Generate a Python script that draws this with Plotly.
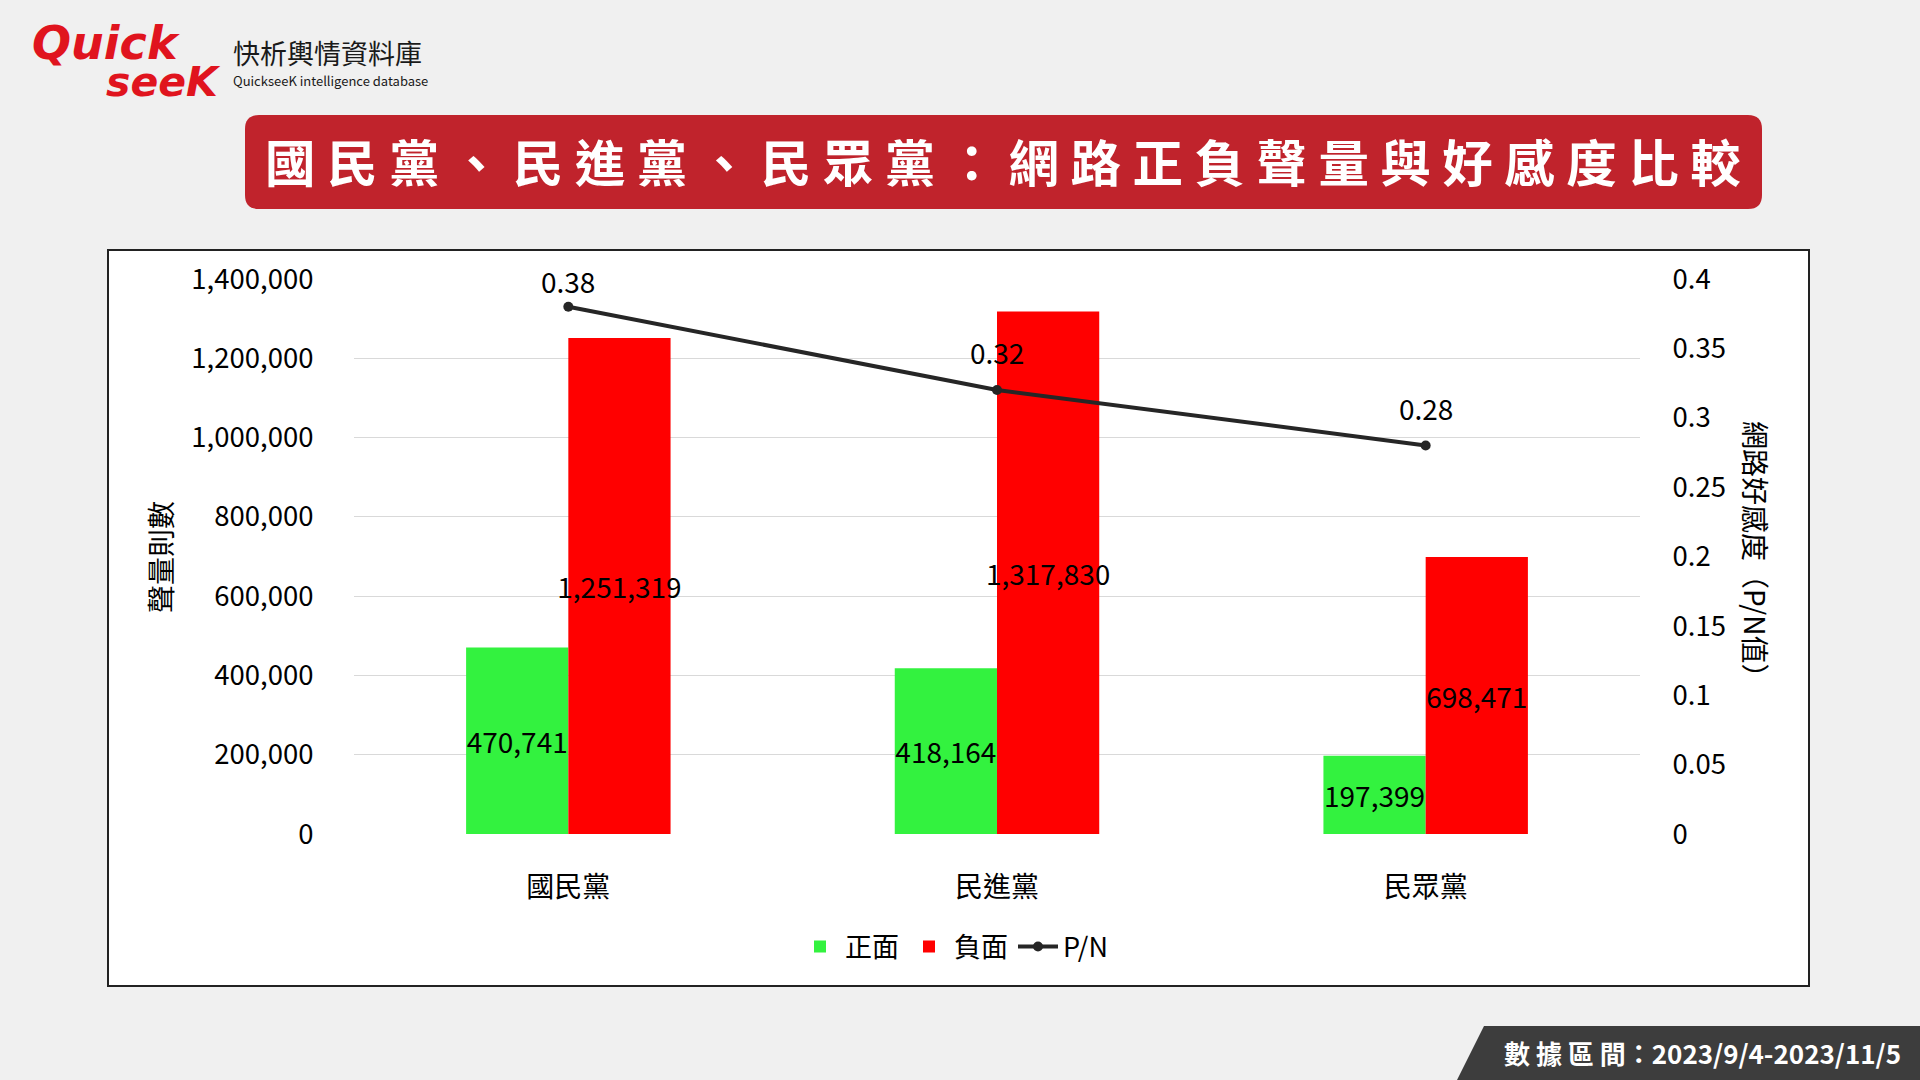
import plotly.graph_objects as go

categories = ["國民黨", "民進黨", "民眾黨"]
positive = [470741, 418164, 197399]
negative = [1251319, 1317830, 698471]
pn_ratio = [0.38, 0.32, 0.28]
pn_labels = ["0.38", "0.32", "0.28"]
pn_label_shift = [26, 38, 37]  # pixel lift of each P/N label above its point (style)

FONT = "Noto Sans CJK TC"
W, H = 1920, 1080
FS = 28

def px(x):
    return x / W

def py(y):
    return 1 - y / H

fig = go.Figure()
fig.add_trace(go.Bar(
    x=categories, y=positive, name="正面", marker_color="#33F23F",
    text=[f"{v:,}" for v in positive], textposition="inside", textangle=0,
    insidetextanchor="middle", constraintext="none",
    insidetextfont=dict(color="black", size=FS, family=FONT),
))
fig.add_trace(go.Bar(
    x=categories, y=negative, name="負面", marker_color="#FF0000",
    text=[f"{v:,}" for v in negative], textposition="inside", textangle=0,
    insidetextanchor="middle", constraintext="none",
    insidetextfont=dict(color="black", size=FS, family=FONT),
))
fig.add_trace(go.Scatter(
    x=categories, y=pn_ratio, name="P/N", yaxis="y2",
    mode="lines+markers",
    line=dict(color="#262626", width=4), marker=dict(color="#262626", size=10),
    cliponaxis=False,
))

shapes = []
# chart frame
shapes.append(dict(type="rect", xref="paper", yref="paper",
                   x0=px(108), x1=px(1809), y0=py(986), y1=py(250),
                   line=dict(color="#222222", width=2), fillcolor="white", layer="below"))
# title rounded rect
x0, x1, y0, y1, r = 245, 1762, 115, 209, 14
path = (f"M {px(x0+r)},{py(y0)} L {px(x1-r)},{py(y0)} Q {px(x1)},{py(y0)} {px(x1)},{py(y0+r)} "
        f"L {px(x1)},{py(y1-r)} Q {px(x1)},{py(y1)} {px(x1-r)},{py(y1)} "
        f"L {px(x0+r)},{py(y1)} Q {px(x0)},{py(y1)} {px(x0)},{py(y1-r)} "
        f"L {px(x0)},{py(y0+r)} Q {px(x0)},{py(y0)} {px(x0+r)},{py(y0)} Z")
shapes.append(dict(type="path", xref="paper", yref="paper", path=path,
                   fillcolor="#C0232C", line=dict(width=0)))
# bottom-right badge
bpath = f"M {px(1457)},{py(1080)} L {px(1484)},{py(1026)} L {px(1920)},{py(1026)} L {px(1920)},{py(1080)} Z"
shapes.append(dict(type="path", xref="paper", yref="paper", path=bpath,
                   fillcolor="#3D3D3D", line=dict(width=0)))

title_text = " ".join(list("國民黨、民進黨、民眾黨：網路正負聲量與好感度比較"))

annotations = [
    dict(text=f"<b>{title_text}</b>", x=px(1003), y=py(160), xref="paper", yref="paper",
         showarrow=False, font=dict(family=FONT, size=50.5, color="white"),
         xanchor="center", yanchor="middle"),
    dict(text="<b>數 據 區 間：2023/9/4-2023/11/5</b>", x=px(1702), y=py(1052), xref="paper", yref="paper",
         showarrow=False, font=dict(family=FONT, size=26, color="white"),
         xanchor="center", yanchor="middle"),
    dict(text="聲量則數", x=px(160), y=py(557), xref="paper", yref="paper", textangle=-90,
         showarrow=False, font=dict(family=FONT, size=FS, color="black"),
         xanchor="center", yanchor="middle"),
    dict(text="網路好感度（P/N值）", x=px(1756), y=py(556), xref="paper", yref="paper", textangle=90,
         showarrow=False, font=dict(family=FONT, size=FS, color="black"),
         xanchor="center", yanchor="middle"),
    # logo
    dict(text="<b><i>Quick</i></b>", x=px(30), y=py(43), xref="paper", yref="paper",
         showarrow=False, font=dict(family="DejaVu Sans", size=46, color="#E0141E"),
         xanchor="left", yanchor="middle"),
    dict(text="<b><i>seeK</i></b>", x=px(104), y=py(82), xref="paper", yref="paper",
         showarrow=False, font=dict(family="DejaVu Sans", size=41, color="#E0141E"),
         xanchor="left", yanchor="middle"),
    dict(text="快析輿情資料庫", x=px(231), y=py(52), xref="paper", yref="paper",
         showarrow=False, font=dict(family=FONT, size=27, color="#1A1A1A"),
         xanchor="left", yanchor="middle"),
    dict(text="QuickseeK intelligence database", x=px(231), y=py(81), xref="paper", yref="paper",
         showarrow=False, font=dict(family=FONT, size=13, color="#1A1A1A"),
         xanchor="left", yanchor="middle"),
]

# P/N data labels, placed on the data through the secondary axis
for cat, val, lab, sh in zip(categories, pn_ratio, pn_labels, pn_label_shift):
    annotations.append(dict(text=lab, x=cat, y=val, xref="x", yref="y2", yshift=sh,
                            showarrow=False, font=dict(family=FONT, size=FS, color="black"),
                            xanchor="center", yanchor="middle"))

fig.update_layout(
    template="none",
    width=W, height=H, autosize=False,
    paper_bgcolor="#F0F0F0", plot_bgcolor="white",
    margin=dict(l=0, r=0, t=0, b=0, pad=0, autoexpand=False),
    barmode="group", bargap=0.523, bargroupgap=0,
    font=dict(family=FONT, size=FS, color="black"),
    xaxis=dict(domain=[px(354), px(1640)], showgrid=False, ticks="outside", ticklen=28,
               tickcolor="rgba(0,0,0,0)", tickfont=dict(size=FS), showline=False,
               automargin=False, zeroline=False),
    yaxis=dict(domain=[py(834), py(279)], range=[0, 1400000], dtick=200000, tickformat=",",
               showgrid=True, gridcolor="#D9D9D9", gridwidth=1.3, zeroline=False,
               ticks="outside", ticklen=34, tickcolor="rgba(0,0,0,0)", tickfont=dict(size=27.5),
               automargin=False, showline=False),
    yaxis2=dict(overlaying="y", side="right", range=[0, 0.4], dtick=0.05, showgrid=False,
                zeroline=False, ticks="outside", ticklen=26, tickcolor="rgba(0,0,0,0)",
                tickfont=dict(size=27.5), automargin=False, showline=False),
    legend=dict(orientation="h", x=px(954), y=py(947), xanchor="center", yanchor="middle",
                font=dict(size=27), bgcolor="rgba(0,0,0,0)", itemwidth=40),
    shapes=shapes, annotations=annotations,
    showlegend=True,
)

fig.write_html("out.html", config={"displayModeBar": False},
               post_script="document.body.style.margin='0px';document.body.style.overflow='hidden';")
